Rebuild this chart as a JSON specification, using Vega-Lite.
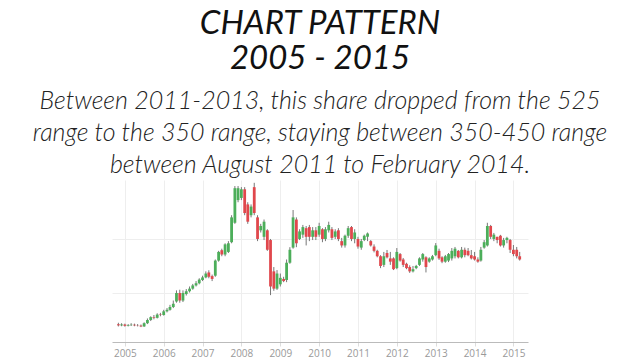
{
  "$schema": "https://vega.github.io/schema/vega-lite/v6.json",
  "width": 416,
  "height": 162,
  "autosize": {"type": "none"},
  "padding": {"left": 112, "right": 112, "top": 180, "bottom": 18},
  "background": "white",
  "title": {
    "text": ["CHART PATTERN", "2005 - 2015"],
    "subtitle": ["Between 2011-2013, this share dropped from the 525", "range to the 350 range, staying between 350-450 range", "between August 2011 to February 2014."],
    "font": "Lato",
    "fontStyle": "italic",
    "fontWeight": "normal",
    "fontSize": 33,
    "lineHeight": 35,
    "color": "#111111",
    "subtitleFont": "Lato",
    "subtitleFontStyle": "italic",
    "subtitleFontWeight": 300,
    "subtitleFontSize": 25,
    "subtitleLineHeight": 32,
    "subtitleColor": "#222222",
    "subtitlePadding": 13,
    "anchor": "middle",
    "offset": 2
  },
  "data": {
    "values": [
      {"date": "2004-11-01", "open": 105, "close": 100, "high": 112, "low": 95},
      {"date": "2004-12-01", "open": 100, "close": 104, "high": 110, "low": 96},
      {"date": "2005-01-01", "open": 104, "close": 98, "high": 108, "low": 94},
      {"date": "2005-02-01", "open": 98, "close": 101, "high": 106, "low": 95},
      {"date": "2005-03-01", "open": 101, "close": 103, "high": 110, "low": 97},
      {"date": "2005-04-01", "open": 103, "close": 100, "high": 108, "low": 96},
      {"date": "2005-05-01", "open": 100, "close": 99, "high": 106, "low": 95},
      {"date": "2005-06-01", "open": 99, "close": 95, "high": 104, "low": 92},
      {"date": "2005-07-01", "open": 95, "close": 110, "high": 114, "low": 93},
      {"date": "2005-08-01", "open": 110, "close": 125, "high": 132, "low": 106},
      {"date": "2005-09-01", "open": 125, "close": 138, "high": 142, "low": 120},
      {"date": "2005-10-01", "open": 138, "close": 135, "high": 148, "low": 128},
      {"date": "2005-11-01", "open": 135, "close": 150, "high": 156, "low": 132},
      {"date": "2005-12-01", "open": 150, "close": 148, "high": 158, "low": 142},
      {"date": "2006-01-01", "open": 148, "close": 165, "high": 172, "low": 145},
      {"date": "2006-02-01", "open": 165, "close": 172, "high": 180, "low": 160},
      {"date": "2006-03-01", "open": 172, "close": 185, "high": 195, "low": 168},
      {"date": "2006-04-01", "open": 185, "close": 200, "high": 215, "low": 180},
      {"date": "2006-05-01", "open": 210, "close": 250, "high": 262, "low": 205},
      {"date": "2006-06-01", "open": 250, "close": 215, "high": 265, "low": 205},
      {"date": "2006-07-01", "open": 215, "close": 250, "high": 262, "low": 208},
      {"date": "2006-08-01", "open": 245, "close": 258, "high": 268, "low": 238},
      {"date": "2006-09-01", "open": 258, "close": 270, "high": 280, "low": 252},
      {"date": "2006-10-01", "open": 270, "close": 285, "high": 292, "low": 265},
      {"date": "2006-11-01", "open": 285, "close": 295, "high": 305, "low": 280},
      {"date": "2006-12-01", "open": 295, "close": 312, "high": 318, "low": 290},
      {"date": "2007-01-01", "open": 310, "close": 322, "high": 330, "low": 305},
      {"date": "2007-02-01", "open": 322, "close": 340, "high": 350, "low": 318},
      {"date": "2007-03-01", "open": 345, "close": 325, "high": 355, "low": 318},
      {"date": "2007-04-01", "open": 328, "close": 315, "high": 335, "low": 305},
      {"date": "2007-05-01", "open": 330, "close": 400, "high": 405, "low": 325},
      {"date": "2007-06-01", "open": 400, "close": 440, "high": 445, "low": 395},
      {"date": "2007-07-01", "open": 448, "close": 428, "high": 455, "low": 420},
      {"date": "2007-08-01", "open": 428, "close": 475, "high": 480, "low": 420},
      {"date": "2007-09-01", "open": 440, "close": 480, "high": 490, "low": 435},
      {"date": "2007-10-01", "open": 485, "close": 600, "high": 610, "low": 480},
      {"date": "2007-11-01", "open": 575, "close": 735, "high": 745, "low": 570},
      {"date": "2007-12-01", "open": 680, "close": 735, "high": 745, "low": 670},
      {"date": "2008-01-01", "open": 690, "close": 730, "high": 740, "low": 680},
      {"date": "2008-02-01", "open": 730, "close": 620, "high": 740, "low": 610},
      {"date": "2008-03-01", "open": 660, "close": 580, "high": 670, "low": 570},
      {"date": "2008-04-01", "open": 610, "close": 650, "high": 660, "low": 600},
      {"date": "2008-05-01", "open": 740, "close": 620, "high": 760, "low": 610},
      {"date": "2008-06-01", "open": 600, "close": 500, "high": 610, "low": 490},
      {"date": "2008-07-01", "open": 540, "close": 560, "high": 570, "low": 530},
      {"date": "2008-08-01", "open": 510, "close": 580, "high": 590, "low": 495},
      {"date": "2008-09-01", "open": 540, "close": 450, "high": 545, "low": 445},
      {"date": "2008-10-01", "open": 495, "close": 280, "high": 500, "low": 240},
      {"date": "2008-11-01", "open": 350, "close": 270, "high": 370, "low": 260},
      {"date": "2008-12-01", "open": 270, "close": 340, "high": 356, "low": 264},
      {"date": "2009-01-01", "open": 290, "close": 320, "high": 340, "low": 280},
      {"date": "2009-02-01", "open": 315, "close": 305, "high": 325, "low": 300},
      {"date": "2009-03-01", "open": 310, "close": 390, "high": 405, "low": 300},
      {"date": "2009-04-01", "open": 390, "close": 450, "high": 462, "low": 385},
      {"date": "2009-05-01", "open": 460, "close": 600, "high": 634, "low": 455},
      {"date": "2009-06-01", "open": 590, "close": 480, "high": 600, "low": 462},
      {"date": "2009-07-01", "open": 500, "close": 535, "high": 545, "low": 495},
      {"date": "2009-08-01", "open": 520, "close": 555, "high": 565, "low": 505},
      {"date": "2009-09-01", "open": 550, "close": 510, "high": 560, "low": 470},
      {"date": "2009-10-01", "open": 555, "close": 510, "high": 565, "low": 490},
      {"date": "2009-11-01", "open": 510, "close": 540, "high": 555, "low": 495},
      {"date": "2009-12-01", "open": 540, "close": 510, "high": 555, "low": 495},
      {"date": "2010-01-01", "open": 520, "close": 560, "high": 575, "low": 510},
      {"date": "2010-02-01", "open": 545, "close": 500, "high": 550, "low": 485},
      {"date": "2010-03-01", "open": 500, "close": 545, "high": 555, "low": 490},
      {"date": "2010-04-01", "open": 540, "close": 565, "high": 580, "low": 530},
      {"date": "2010-05-01", "open": 545, "close": 505, "high": 555, "low": 495},
      {"date": "2010-06-01", "open": 510, "close": 535, "high": 545, "low": 500},
      {"date": "2010-07-01", "open": 540, "close": 500, "high": 550, "low": 490},
      {"date": "2010-08-01", "open": 490, "close": 470, "high": 505, "low": 460},
      {"date": "2010-09-01", "open": 470, "close": 515, "high": 520, "low": 460},
      {"date": "2010-10-01", "open": 515, "close": 550, "high": 560, "low": 505},
      {"date": "2010-11-01", "open": 555, "close": 500, "high": 560, "low": 490},
      {"date": "2010-12-01", "open": 500, "close": 530, "high": 545, "low": 480},
      {"date": "2011-01-01", "open": 500, "close": 465, "high": 510, "low": 455},
      {"date": "2011-02-01", "open": 460, "close": 490, "high": 500, "low": 450},
      {"date": "2011-03-01", "open": 495, "close": 515, "high": 520, "low": 490},
      {"date": "2011-04-01", "open": 510, "close": 525, "high": 530, "low": 490},
      {"date": "2011-05-01", "open": 490, "close": 470, "high": 495, "low": 465},
      {"date": "2011-06-01", "open": 465, "close": 445, "high": 475, "low": 438},
      {"date": "2011-07-01", "open": 445, "close": 420, "high": 450, "low": 415},
      {"date": "2011-08-01", "open": 420, "close": 375, "high": 425, "low": 365},
      {"date": "2011-09-01", "open": 380, "close": 420, "high": 440, "low": 370},
      {"date": "2011-10-01", "open": 435, "close": 415, "high": 449, "low": 410},
      {"date": "2011-11-01", "open": 410, "close": 395, "high": 440, "low": 380},
      {"date": "2011-12-01", "open": 410, "close": 360, "high": 415, "low": 356},
      {"date": "2012-01-01", "open": 365, "close": 440, "high": 458, "low": 360},
      {"date": "2012-02-01", "open": 430, "close": 400, "high": 435, "low": 395},
      {"date": "2012-03-01", "open": 405, "close": 380, "high": 412, "low": 370},
      {"date": "2012-04-01", "open": 385, "close": 365, "high": 390, "low": 360},
      {"date": "2012-05-01", "open": 370, "close": 350, "high": 378, "low": 343},
      {"date": "2012-06-01", "open": 350, "close": 360, "high": 375, "low": 345},
      {"date": "2012-07-01", "open": 365, "close": 375, "high": 380, "low": 360},
      {"date": "2012-08-01", "open": 380, "close": 410, "high": 415, "low": 375},
      {"date": "2012-09-01", "open": 405, "close": 430, "high": 435, "low": 395},
      {"date": "2012-10-01", "open": 415, "close": 370, "high": 420, "low": 345},
      {"date": "2012-11-01", "open": 395, "close": 410, "high": 415, "low": 390},
      {"date": "2012-12-01", "open": 405, "close": 420, "high": 426, "low": 400},
      {"date": "2013-01-01", "open": 425, "close": 470, "high": 481, "low": 420},
      {"date": "2013-02-01", "open": 445, "close": 410, "high": 455, "low": 403},
      {"date": "2013-03-01", "open": 415, "close": 395, "high": 420, "low": 388},
      {"date": "2013-04-01", "open": 395, "close": 420, "high": 426, "low": 390},
      {"date": "2013-05-01", "open": 400, "close": 430, "high": 435, "low": 393},
      {"date": "2013-06-01", "open": 410, "close": 445, "high": 458, "low": 400},
      {"date": "2013-07-01", "open": 420, "close": 455, "high": 463, "low": 410},
      {"date": "2013-08-01", "open": 445, "close": 415, "high": 449, "low": 410},
      {"date": "2013-09-01", "open": 415, "close": 450, "high": 463, "low": 410},
      {"date": "2013-10-01", "open": 450, "close": 425, "high": 460, "low": 415},
      {"date": "2013-11-01", "open": 445, "close": 425, "high": 458, "low": 420},
      {"date": "2013-12-01", "open": 425, "close": 410, "high": 449, "low": 405},
      {"date": "2014-01-01", "open": 420, "close": 405, "high": 440, "low": 400},
      {"date": "2014-02-01", "open": 405, "close": 395, "high": 415, "low": 390},
      {"date": "2014-03-01", "open": 400, "close": 450, "high": 463, "low": 395},
      {"date": "2014-04-01", "open": 460, "close": 485, "high": 495, "low": 455},
      {"date": "2014-05-01", "open": 470, "close": 560, "high": 575, "low": 465},
      {"date": "2014-06-01", "open": 560, "close": 510, "high": 565, "low": 500},
      {"date": "2014-07-01", "open": 500, "close": 520, "high": 528, "low": 490},
      {"date": "2014-08-01", "open": 510, "close": 495, "high": 510, "low": 480},
      {"date": "2014-09-01", "open": 515, "close": 470, "high": 519, "low": 465},
      {"date": "2014-10-01", "open": 470, "close": 495, "high": 505, "low": 460},
      {"date": "2014-11-01", "open": 495, "close": 505, "high": 510, "low": 480},
      {"date": "2014-12-01", "open": 495, "close": 450, "high": 500, "low": 435},
      {"date": "2015-01-01", "open": 450, "close": 430, "high": 472, "low": 420},
      {"date": "2015-02-01", "open": 450, "close": 420, "high": 463, "low": 410},
      {"date": "2015-03-01", "open": 420, "close": 405, "high": 440, "low": 400}
    ]
  },
  "encoding": {
    "x": {
      "field": "date",
      "type": "temporal",
      "scale": {"domain": [{"year": 2004, "month": 10, "date": 19}, {"year": 2015, "month": 4, "date": 1}]},
      "axis": {
        "title": null,
        "format": "%Y",
        "tickCount": {"interval": "year", "step": 1},
        "labelFont": "Open Sans",
        "labelFontSize": 10,
        "labelColor": "#999999",
        "labelPadding": 2,
        "labelFlush": false,
        "domainColor": "#bbbbbb",
        "tickColor": "#dddddd",
        "tickSize": 4,
        "grid": true,
        "gridColor": "#eeeeee",
        "gridWidth": 1
      }
    },
    "y": {
      "type": "quantitative",
      "scale": {"domain": [23, 773], "nice": false, "zero": false},
      "axis": {
        "title": null,
        "values": [250, 500],
        "labels": false,
        "ticks": false,
        "domain": false,
        "grid": true,
        "gridColor": "#eeeeee"
      }
    }
  },
  "layer": [
    {
      "mark": {"type": "rule", "color": "#777777", "strokeWidth": 1, "clip": true},
      "encoding": {
        "y": {"field": "low", "type": "quantitative"},
        "y2": {"field": "high"}
      }
    },
    {
      "mark": {"type": "bar", "size": 2.8, "clip": true},
      "encoding": {
        "y": {"field": "open", "type": "quantitative"},
        "y2": {"field": "close"},
        "color": {
          "condition": {"test": "datum.close >= datum.open", "value": "#4cae5a"},
          "value": "#e0474c"
        }
      }
    }
  ],
  "config": {"view": {"stroke": null}}
}
